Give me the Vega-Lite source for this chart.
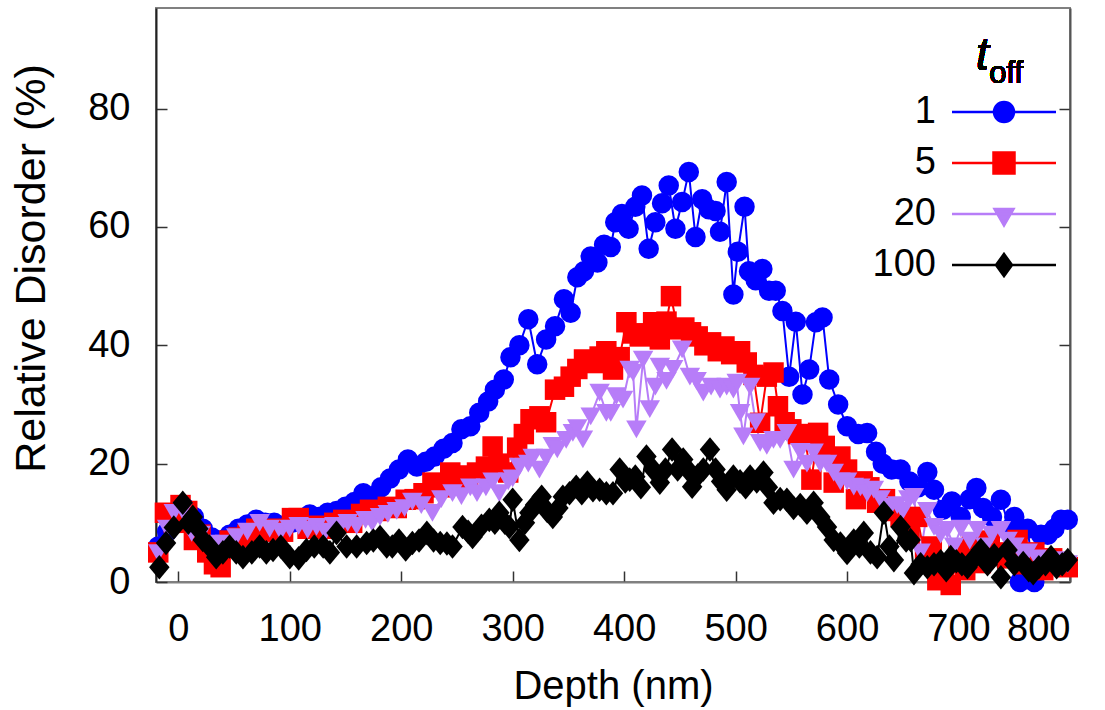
{
  "$schema": "https://vega.github.io/schema/vega-lite/v6.json",
  "width": 914,
  "height": 574,
  "autosize": {"type": "none"},
  "padding": {"left": 156, "top": 8, "right": 35, "bottom": 128},
  "config": {
    "font": "Liberation Sans",
    "view": {"stroke": "#808080", "strokeWidth": 2},
    "axis": {"grid": false, "labelColor": "#000", "titleColor": "#000", "titleFontWeight": "normal", "labelFont": "Liberation Sans", "titleFont": "Liberation Sans"},
    "legend": {"orient": "none", "legendX": 829, "legendY": 85, "padding": 0, "direction": "vertical", "symbolSize": 400, "rowPadding": 13, "labelFontSize": 38, "labelFont": "Liberation Sans", "labelColor": "#000", "labelAlign": "right", "labelBaseline": "middle", "labelOffset": -87, "symbolOpacity": 1}
  },
  "data": {"values": [
    {"s":"1","x":-18,"y":6},{"s":"1","x":-10,"y":8.5},{"s":"1","x":-2,"y":10.5},{"s":"1","x":6,"y":12.5},{"s":"1","x":14,"y":11},{"s":"1","x":22,"y":9},{"s":"1","x":30,"y":7.5},{"s":"1","x":38,"y":7},{"s":"1","x":46,"y":8},{"s":"1","x":54,"y":9},{"s":"1","x":62,"y":9.7},{"s":"1","x":70,"y":10.5},{"s":"1","x":78,"y":10},{"s":"1","x":86,"y":10},{"s":"1","x":94,"y":9.5},{"s":"1","x":102,"y":10},{"s":"1","x":110,"y":10.5},{"s":"1","x":118,"y":11.4},{"s":"1","x":126,"y":11},{"s":"1","x":134,"y":11.7},{"s":"1","x":142,"y":12},{"s":"1","x":150,"y":12.7},{"s":"1","x":158,"y":13.5},{"s":"1","x":166,"y":15},{"s":"1","x":174,"y":14.4},{"s":"1","x":182,"y":16},{"s":"1","x":190,"y":17.5},{"s":"1","x":198,"y":19},{"s":"1","x":206,"y":20.7},{"s":"1","x":214,"y":19.5},{"s":"1","x":222,"y":20.3},{"s":"1","x":230,"y":21.2},{"s":"1","x":238,"y":22.5},{"s":"1","x":246,"y":23.5},{"s":"1","x":254,"y":25.8},{"s":"1","x":262,"y":26.3},{"s":"1","x":270,"y":28.6},{"s":"1","x":278,"y":30.5},{"s":"1","x":284,"y":32.5},{"s":"1","x":292,"y":34.2},{"s":"1","x":298,"y":38},{"s":"1","x":306,"y":40},{"s":"1","x":314,"y":44.4},{"s":"1","x":322,"y":36.8},{"s":"1","x":330,"y":41},{"s":"1","x":338,"y":43.2},{"s":"1","x":346,"y":47.8},{"s":"1","x":352,"y":45.5},{"s":"1","x":358,"y":51.5},{"s":"1","x":364,"y":52.5},{"s":"1","x":370,"y":55},{"s":"1","x":376,"y":54},{"s":"1","x":382,"y":57},{"s":"1","x":388,"y":56.6},{"s":"1","x":392,"y":60.8},{"s":"1","x":398,"y":62.2},{"s":"1","x":404,"y":59.7},{"s":"1","x":410,"y":63.4},{"s":"1","x":416,"y":65.3},{"s":"1","x":422,"y":56.3},{"s":"1","x":428,"y":60.8},{"s":"1","x":434,"y":64},{"s":"1","x":440,"y":67},{"s":"1","x":446,"y":59.7},{"s":"1","x":452,"y":64.2},{"s":"1","x":458,"y":69.3},{"s":"1","x":464,"y":58.3},{"s":"1","x":470,"y":64.7},{"s":"1","x":476,"y":63},{"s":"1","x":482,"y":62.7},{"s":"1","x":486,"y":59.2},{"s":"1","x":492,"y":67.6},{"s":"1","x":498,"y":48.6},{"s":"1","x":502,"y":55.8},{"s":"1","x":508,"y":63.4},{"s":"1","x":512,"y":52.5},{"s":"1","x":518,"y":51},{"s":"1","x":524,"y":52.9},{"s":"1","x":530,"y":49.2},{"s":"1","x":536,"y":49.2},{"s":"1","x":542,"y":45.8},{"s":"1","x":548,"y":34.7},{"s":"1","x":554,"y":44},{"s":"1","x":560,"y":31.7},{"s":"1","x":566,"y":35.9},{"s":"1","x":572,"y":43.9},{"s":"1","x":578,"y":44.7},{"s":"1","x":584,"y":34.2},{"s":"1","x":592,"y":30},{"s":"1","x":600,"y":26.3},{"s":"1","x":610,"y":25},{"s":"1","x":618,"y":25.2},{"s":"1","x":626,"y":22},{"s":"1","x":632,"y":20},{"s":"1","x":640,"y":19},{"s":"1","x":648,"y":19},{"s":"1","x":656,"y":17},{"s":"1","x":664,"y":16},{"s":"1","x":672,"y":18.6},{"s":"1","x":678,"y":15.6},{"s":"1","x":686,"y":12.2},{"s":"1","x":694,"y":13.6},{"s":"1","x":702,"y":11},{"s":"1","x":710,"y":14},{"s":"1","x":716,"y":15.9},{"s":"1","x":722,"y":12.5},{"s":"1","x":730,"y":11},{"s":"1","x":738,"y":13.9},{"s":"1","x":746,"y":9},{"s":"1","x":750,"y":11},{"s":"1","x":755,"y":0},{"s":"1","x":762,"y":9},{"s":"1","x":768,"y":0},{"s":"1","x":774,"y":8},{"s":"1","x":780,"y":8},{"s":"1","x":786,"y":9},{"s":"1","x":792,"y":10.5},{"s":"1","x":798,"y":10.5},
    {"s":"5","x":-18,"y":5},{"s":"5","x":-12,"y":11.7},{"s":"5","x":-4,"y":10},{"s":"5","x":2,"y":13},{"s":"5","x":8,"y":12},{"s":"5","x":14,"y":7.1},{"s":"5","x":20,"y":8},{"s":"5","x":26,"y":5},{"s":"5","x":32,"y":3},{"s":"5","x":38,"y":2.5},{"s":"5","x":46,"y":7},{"s":"5","x":54,"y":7.5},{"s":"5","x":62,"y":8},{"s":"5","x":70,"y":9},{"s":"5","x":78,"y":8.5},{"s":"5","x":86,"y":9},{"s":"5","x":94,"y":8.5},{"s":"5","x":102,"y":10.8},{"s":"5","x":108,"y":10.8},{"s":"5","x":116,"y":9},{"s":"5","x":124,"y":9.5},{"s":"5","x":132,"y":9},{"s":"5","x":140,"y":10},{"s":"5","x":148,"y":10.5},{"s":"5","x":156,"y":10},{"s":"5","x":164,"y":11.5},{"s":"5","x":172,"y":12.2},{"s":"5","x":180,"y":12},{"s":"5","x":188,"y":12.7},{"s":"5","x":196,"y":12.5},{"s":"5","x":204,"y":13.9},{"s":"5","x":212,"y":14},{"s":"5","x":220,"y":15},{"s":"5","x":228,"y":16.8},{"s":"5","x":236,"y":16},{"s":"5","x":244,"y":18.5},{"s":"5","x":252,"y":17},{"s":"5","x":260,"y":18},{"s":"5","x":268,"y":18.5},{"s":"5","x":276,"y":19.5},{"s":"5","x":282,"y":22.9},{"s":"5","x":288,"y":20},{"s":"5","x":296,"y":18.5},{"s":"5","x":304,"y":22.7},{"s":"5","x":310,"y":25},{"s":"5","x":316,"y":27.5},{"s":"5","x":324,"y":28},{"s":"5","x":330,"y":27},{"s":"5","x":338,"y":32.5},{"s":"5","x":346,"y":33},{"s":"5","x":352,"y":34.7},{"s":"5","x":358,"y":36},{"s":"5","x":364,"y":37.6},{"s":"5","x":372,"y":37},{"s":"5","x":378,"y":38.1},{"s":"5","x":384,"y":39},{"s":"5","x":390,"y":35.9},{"s":"5","x":396,"y":38},{"s":"5","x":402,"y":43.9},{"s":"5","x":408,"y":42},{"s":"5","x":414,"y":41.5},{"s":"5","x":420,"y":42},{"s":"5","x":426,"y":43.9},{"s":"5","x":432,"y":41},{"s":"5","x":438,"y":44},{"s":"5","x":442,"y":48.3},{"s":"5","x":448,"y":42.7},{"s":"5","x":454,"y":43},{"s":"5","x":460,"y":42.2},{"s":"5","x":466,"y":41.5},{"s":"5","x":472,"y":40},{"s":"5","x":478,"y":40.5},{"s":"5","x":484,"y":39},{"s":"5","x":490,"y":39.8},{"s":"5","x":496,"y":38.5},{"s":"5","x":504,"y":39},{"s":"5","x":510,"y":37.1},{"s":"5","x":516,"y":35},{"s":"5","x":522,"y":26.9},{"s":"5","x":528,"y":34.7},{"s":"5","x":534,"y":35.4},{"s":"5","x":538,"y":29.7},{"s":"5","x":544,"y":27},{"s":"5","x":550,"y":25.8},{"s":"5","x":556,"y":25},{"s":"5","x":562,"y":24.6},{"s":"5","x":568,"y":17.3},{"s":"5","x":574,"y":25.2},{"s":"5","x":580,"y":23},{"s":"5","x":588,"y":16.8},{"s":"5","x":594,"y":21.2},{"s":"5","x":600,"y":19},{"s":"5","x":608,"y":14},{"s":"5","x":614,"y":17},{"s":"5","x":620,"y":16},{"s":"5","x":627,"y":13.4},{"s":"5","x":634,"y":14},{"s":"5","x":640,"y":12},{"s":"5","x":648,"y":11},{"s":"5","x":656,"y":8},{"s":"5","x":663,"y":11},{"s":"5","x":670,"y":4},{"s":"5","x":676,"y":6},{"s":"5","x":681,"y":0.3},{"s":"5","x":687,"y":3},{"s":"5","x":693,"y":-0.5},{"s":"5","x":700,"y":5},{"s":"5","x":706,"y":2},{"s":"5","x":712,"y":6},{"s":"5","x":720,"y":3.2},{"s":"5","x":728,"y":7},{"s":"5","x":736,"y":5},{"s":"5","x":744,"y":4},{"s":"5","x":753,"y":7.1},{"s":"5","x":760,"y":3},{"s":"5","x":768,"y":5},{"s":"5","x":776,"y":2},{"s":"5","x":784,"y":4},{"s":"5","x":792,"y":3},{"s":"5","x":798,"y":2.5},
    {"s":"20","x":-18,"y":4.9},{"s":"20","x":-10,"y":9},{"s":"20","x":-4,"y":11.7},{"s":"20","x":4,"y":12},{"s":"20","x":12,"y":8.3},{"s":"20","x":20,"y":8},{"s":"20","x":28,"y":6.5},{"s":"20","x":34,"y":6},{"s":"20","x":42,"y":6.5},{"s":"20","x":52,"y":7.6},{"s":"20","x":62,"y":8.5},{"s":"20","x":73,"y":10},{"s":"20","x":82,"y":9},{"s":"20","x":92,"y":8.5},{"s":"20","x":100,"y":9},{"s":"20","x":108,"y":9.5},{"s":"20","x":116,"y":8.8},{"s":"20","x":124,"y":9.3},{"s":"20","x":132,"y":8.5},{"s":"20","x":140,"y":9.5},{"s":"20","x":145,"y":9.3},{"s":"20","x":152,"y":10},{"s":"20","x":160,"y":9.5},{"s":"20","x":168,"y":10.5},{"s":"20","x":174,"y":10},{"s":"20","x":181,"y":11},{"s":"20","x":188,"y":11.5},{"s":"20","x":196,"y":12},{"s":"20","x":203,"y":12.5},{"s":"20","x":210,"y":13.6},{"s":"20","x":218,"y":13},{"s":"20","x":228,"y":11.7},{"s":"20","x":236,"y":14},{"s":"20","x":246,"y":15},{"s":"20","x":254,"y":14.5},{"s":"20","x":262,"y":16},{"s":"20","x":268,"y":15},{"s":"20","x":276,"y":16},{"s":"20","x":282,"y":17},{"s":"20","x":288,"y":15},{"s":"20","x":296,"y":17},{"s":"20","x":300,"y":17.5},{"s":"20","x":306,"y":19.5},{"s":"20","x":314,"y":20},{"s":"20","x":318,"y":21},{"s":"20","x":324,"y":19},{"s":"20","x":330,"y":21},{"s":"20","x":336,"y":23},{"s":"20","x":340,"y":22.4},{"s":"20","x":348,"y":24},{"s":"20","x":354,"y":25.2},{"s":"20","x":358,"y":26},{"s":"20","x":363,"y":24.1},{"s":"20","x":370,"y":28},{"s":"20","x":378,"y":32},{"s":"20","x":384,"y":28.6},{"s":"20","x":388,"y":28.6},{"s":"20","x":393,"y":31.4},{"s":"20","x":399,"y":30.8},{"s":"20","x":405,"y":35.9},{"s":"20","x":408,"y":35.4},{"s":"20","x":411,"y":25.8},{"s":"20","x":417,"y":37.6},{"s":"20","x":423,"y":29.2},{"s":"20","x":428,"y":33},{"s":"20","x":432,"y":36.4},{"s":"20","x":438,"y":34},{"s":"20","x":444,"y":36},{"s":"20","x":452,"y":39.3},{"s":"20","x":459,"y":34.7},{"s":"20","x":465,"y":34},{"s":"20","x":471,"y":32},{"s":"20","x":478,"y":33},{"s":"20","x":486,"y":32.5},{"s":"20","x":492,"y":33},{"s":"20","x":498,"y":32.5},{"s":"20","x":501,"y":33.7},{"s":"20","x":504,"y":28.6},{"s":"20","x":507,"y":24.6},{"s":"20","x":513,"y":33},{"s":"20","x":518,"y":27},{"s":"20","x":522,"y":23.5},{"s":"20","x":528,"y":23},{"s":"20","x":534,"y":24},{"s":"20","x":540,"y":24},{"s":"20","x":546,"y":25.2},{"s":"20","x":552,"y":19},{"s":"20","x":558,"y":22},{"s":"20","x":564,"y":20},{"s":"20","x":570,"y":21.9},{"s":"20","x":576,"y":20},{"s":"20","x":582,"y":20},{"s":"20","x":588,"y":18.5},{"s":"20","x":594,"y":17},{"s":"20","x":600,"y":17},{"s":"20","x":606,"y":16.1},{"s":"20","x":612,"y":16},{"s":"20","x":618,"y":15},{"s":"20","x":624,"y":15.6},{"s":"20","x":630,"y":14},{"s":"20","x":639,"y":12.7},{"s":"20","x":645,"y":13},{"s":"20","x":650,"y":12},{"s":"20","x":655,"y":14},{"s":"20","x":660,"y":14.4},{"s":"20","x":666,"y":5},{"s":"20","x":672,"y":12},{"s":"20","x":678,"y":9.3},{"s":"20","x":684,"y":8},{"s":"20","x":690,"y":8.8},{"s":"20","x":696,"y":6},{"s":"20","x":702,"y":9},{"s":"20","x":710,"y":7},{"s":"20","x":717,"y":8.8},{"s":"20","x":724,"y":6},{"s":"20","x":730,"y":8},{"s":"20","x":738,"y":8.8},{"s":"20","x":744,"y":7},{"s":"20","x":750,"y":6},{"s":"20","x":756,"y":4.9},{"s":"20","x":762,"y":5},{"s":"20","x":770,"y":4},{"s":"20","x":776,"y":3.2},{"s":"20","x":784,"y":3},{"s":"20","x":791,"y":3.7},{"s":"20","x":798,"y":3},
    {"s":"100","x":-17,"y":2.5},{"s":"100","x":-11,"y":6.6},{"s":"100","x":-4,"y":9.2},{"s":"100","x":4,"y":13.4},{"s":"100","x":9,"y":10},{"s":"100","x":13,"y":11},{"s":"100","x":18,"y":9},{"s":"100","x":22,"y":7.1},{"s":"100","x":28,"y":6},{"s":"100","x":34,"y":4.2},{"s":"100","x":40,"y":5},{"s":"100","x":46,"y":6},{"s":"100","x":52,"y":5},{"s":"100","x":58,"y":4.2},{"s":"100","x":66,"y":5},{"s":"100","x":73,"y":6},{"s":"100","x":79,"y":5},{"s":"100","x":85,"y":5.4},{"s":"100","x":92,"y":6},{"s":"100","x":100,"y":4.2},{"s":"100","x":108,"y":4},{"s":"100","x":115,"y":5.4},{"s":"100","x":122,"y":6},{"s":"100","x":130,"y":6},{"s":"100","x":136,"y":5},{"s":"100","x":142,"y":8.3},{"s":"100","x":151,"y":6},{"s":"100","x":160,"y":6},{"s":"100","x":169,"y":6.6},{"s":"100","x":175,"y":7},{"s":"100","x":181,"y":7.6},{"s":"100","x":187,"y":6},{"s":"100","x":192,"y":6},{"s":"100","x":198,"y":7},{"s":"100","x":204,"y":5.5},{"s":"100","x":210,"y":6.6},{"s":"100","x":216,"y":7},{"s":"100","x":223,"y":8.3},{"s":"100","x":229,"y":7},{"s":"100","x":235,"y":6.6},{"s":"100","x":241,"y":6.5},{"s":"100","x":246,"y":6},{"s":"100","x":255,"y":9.3},{"s":"100","x":260,"y":8.5},{"s":"100","x":264,"y":7.6},{"s":"100","x":272,"y":9.5},{"s":"100","x":279,"y":10.5},{"s":"100","x":284,"y":10},{"s":"100","x":288,"y":11.7},{"s":"100","x":293,"y":10},{"s":"100","x":297,"y":9.3},{"s":"100","x":300,"y":13.9},{"s":"100","x":306,"y":7.1},{"s":"100","x":311,"y":10},{"s":"100","x":315,"y":11.7},{"s":"100","x":320,"y":13},{"s":"100","x":326,"y":14.4},{"s":"100","x":331,"y":12},{"s":"100","x":336,"y":11},{"s":"100","x":341,"y":12.5},{"s":"100","x":345,"y":14.4},{"s":"100","x":351,"y":15},{"s":"100","x":357,"y":16.1},{"s":"100","x":362,"y":15},{"s":"100","x":367,"y":16.8},{"s":"100","x":372,"y":15.5},{"s":"100","x":378,"y":15.6},{"s":"100","x":384,"y":15},{"s":"100","x":390,"y":15},{"s":"100","x":396,"y":19},{"s":"100","x":401,"y":17},{"s":"100","x":405,"y":17.3},{"s":"100","x":410,"y":17.8},{"s":"100","x":415,"y":16},{"s":"100","x":420,"y":21.2},{"s":"100","x":426,"y":19},{"s":"100","x":432,"y":16.8},{"s":"100","x":437,"y":19},{"s":"100","x":443,"y":22.4},{"s":"100","x":448,"y":19},{"s":"100","x":453,"y":20.7},{"s":"100","x":457,"y":19},{"s":"100","x":461,"y":16.1},{"s":"100","x":466,"y":18},{"s":"100","x":471,"y":19},{"s":"100","x":477,"y":22.4},{"s":"100","x":482,"y":19},{"s":"100","x":487,"y":17},{"s":"100","x":492,"y":15.6},{"s":"100","x":498,"y":17.8},{"s":"100","x":504,"y":17},{"s":"100","x":509,"y":16},{"s":"100","x":513,"y":17.8},{"s":"100","x":519,"y":17},{"s":"100","x":525,"y":18.5},{"s":"100","x":529,"y":16},{"s":"100","x":534,"y":13.4},{"s":"100","x":540,"y":14},{"s":"100","x":546,"y":13.9},{"s":"100","x":552,"y":12.5},{"s":"100","x":558,"y":13},{"s":"100","x":564,"y":11.7},{"s":"100","x":570,"y":13.4},{"s":"100","x":576,"y":11},{"s":"100","x":582,"y":9.3},{"s":"100","x":588,"y":7.1},{"s":"100","x":594,"y":6.5},{"s":"100","x":600,"y":4.9},{"s":"100","x":606,"y":7},{"s":"100","x":611,"y":6},{"s":"100","x":615,"y":8.3},{"s":"100","x":621,"y":5},{"s":"100","x":627,"y":4.2},{"s":"100","x":633,"y":11.7},{"s":"100","x":638,"y":6},{"s":"100","x":642,"y":3.7},{"s":"100","x":648,"y":9.3},{"s":"100","x":653,"y":7},{"s":"100","x":657,"y":7.1},{"s":"100","x":660,"y":1.5},{"s":"100","x":666,"y":3},{"s":"100","x":672,"y":2.5},{"s":"100","x":678,"y":3},{"s":"100","x":684,"y":3.5},{"s":"100","x":689,"y":2},{"s":"100","x":693,"y":4.2},{"s":"100","x":698,"y":3.5},{"s":"100","x":703,"y":3},{"s":"100","x":708,"y":2.5},{"s":"100","x":714,"y":4},{"s":"100","x":720,"y":5.4},{"s":"100","x":726,"y":3},{"s":"100","x":732,"y":4.5},{"s":"100","x":738,"y":0.8},{"s":"100","x":744,"y":5.4},{"s":"100","x":750,"y":3},{"s":"100","x":758,"y":3.2},{"s":"100","x":763,"y":2},{"s":"100","x":767,"y":1.5},{"s":"100","x":772,"y":2.5},{"s":"100","x":778,"y":3},{"s":"100","x":783,"y":4.2},{"s":"100","x":788,"y":2.5},{"s":"100","x":793,"y":3},{"s":"100","x":798,"y":3.7}
  ]},
  "layer": [
    {
      "mark": {"type": "line", "strokeWidth": 2, "clip": false},
      "encoding": {
        "x": {"field": "x", "type": "quantitative", "scale": {"domain": [-20, 800], "nice": false, "zero": false},
          "axis": {"title": "Depth (nm)", "values": [0,100,200,300,400,500,600,700,800], "tickSize": -11, "tickWidth": 1.5, "tickColor": "#333", "domainColor": "#808080", "domainWidth": 2, "labelFontSize": 38, "labelPadding": 39, "titleFontSize": 40, "titlePadding": 18}},
        "y": {"field": "y", "type": "quantitative", "scale": {"domain": [0, 97], "nice": false},
          "axis": {"title": "Relative Disorder (%)", "values": [0,20,40,60,80], "tickSize": -11, "tickWidth": 1.5, "tickColor": "#333", "domainColor": "#222", "domainWidth": 2, "labelFontSize": 38, "labelPadding": 37, "titleFontSize": 43, "titleAngle": 270, "titleAlign": "center", "titleBaseline": "alphabetic", "titleX": -112, "titleY": 260}},
        "color": {"field": "s", "type": "nominal", "scale": {"domain": ["1","5","20","100"], "range": ["#0000ff","#ff0000","#b77df8","#000000"]}, "legend": null},
        "detail": {"field": "s"}
      }
    },
    {
      "mark": {"type": "point", "filled": true, "opacity": 1, "size": 420, "clip": false},
      "encoding": {
        "x": {"field": "x", "type": "quantitative", "scale": {"domain": [-20, 800], "nice": false, "zero": false},
          "axis": {"title": "Depth (nm)", "values": [0,100,200,300,400,500,600,700,800], "tickSize": -11, "tickWidth": 1.5, "tickColor": "#333", "domainColor": "#808080", "domainWidth": 2, "labelFontSize": 38, "labelPadding": 39, "titleFontSize": 40, "titlePadding": 18}},
        "y": {"field": "y", "type": "quantitative", "scale": {"domain": [0, 97], "nice": false},
          "axis": {"orient": "right", "title": null, "labels": false, "values": [0,20,40,60,80], "tickSize": -11, "tickWidth": 1.5, "tickColor": "#333", "domainColor": "#555", "domainWidth": 2}},
        "color": {"field": "s", "type": "nominal", "scale": {"domain": ["1","5","20","100"], "range": ["#0000ff","#ff0000","#b77df8","#000000"]}, "legend": null},
        "shape": {"field": "s", "type": "nominal", "scale": {"domain": ["1","5","20","100"], "range": ["circle","square","triangle-down","M0,-1.2L1,0L0,1.2L-1,0Z"]}, "legend": null}
      }
    },
    {
      "transform": [{"filter": "datum.x < -16"}],
      "mark": {"type": "point", "filled": true, "opacity": 0},
      "encoding": {
        "x": {"field": "x", "type": "quantitative", "scale": {"domain": [-20, 800], "nice": false, "zero": false},
          "axis": {"title": "Depth (nm)", "values": [0,100,200,300,400,500,600,700,800], "tickSize": -11, "tickWidth": 1.5, "tickColor": "#333", "domainColor": "#808080", "domainWidth": 2, "labelFontSize": 38, "labelPadding": 39, "titleFontSize": 40, "titlePadding": 18}},
        "y": {"field": "y", "type": "quantitative", "scale": {"domain": [0, 97], "nice": false}, "axis": null},
        "color": {"field": "s", "type": "nominal", "scale": {"domain": ["1","5","20","100"], "range": ["#0000ff","#ff0000","#b77df8","#000000"]},
          "legend": {"title": null,
            "encode": {"symbols": {"update": {
              "shape": {"signal": "datum.value === '1' ? 'M-5.2,0H5.2M-1,0A1,1,0,1,0,1,0A1,1,0,1,0,-1,0Z' : datum.value === '5' ? 'M-5.2,0H5.2M-1.05,-1.05H1.05V1.05H-1.05Z' : datum.value === '20' ? 'M-5.2,0H5.2M-0.95,-0.5H0.95L0,1.15Z' : 'M-5.2,0H5.2M0,-1.1L0.8,0L0,1.1L-0.8,0Z'"},
              "size": {"value": 400},
              "fill": {"signal": "datum.value === '1' ? '#0000ff' : datum.value === '5' ? '#ff0000' : datum.value === '20' ? '#b77df8' : '#000000'"},
              "stroke": {"signal": "datum.value === '1' ? '#0000ff' : datum.value === '5' ? '#ff0000' : datum.value === '20' ? '#b77df8' : '#000000'"},
              "strokeWidth": {"value": 2.5},
              "opacity": {"value": 1}}}}}}
      }
    },
    {
      "mark": {"type": "text", "text": "t", "fontStyle": "italic", "fontWeight": "normal", "fontSize": 46, "align": "center", "baseline": "alphabetic", "font": "Liberation Sans", "color": "#000"},
      "encoding": {
        "x": {"datum": 721.5, "type": "quantitative", "scale": {"domain": [-20, 800], "nice": false, "zero": false},
          "axis": {"title": "Depth (nm)", "values": [0,100,200,300,400,500,600,700,800], "tickSize": -11, "tickWidth": 1.5, "tickColor": "#333", "domainColor": "#808080", "domainWidth": 2, "labelFontSize": 38, "labelPadding": 39, "titleFontSize": 40, "titlePadding": 18}},
        "y": {"datum": 86.5, "type": "quantitative", "scale": {"domain": [0, 97], "nice": false}, "axis": null}
      }
    },
    {
      "mark": {"type": "text", "text": "off", "fontWeight": "normal", "fontSize": 31, "align": "left", "baseline": "alphabetic", "font": "Liberation Sans", "color": "#000"},
      "encoding": {
        "x": {"datum": 727.5, "type": "quantitative", "scale": {"domain": [-20, 800], "nice": false, "zero": false},
          "axis": {"title": "Depth (nm)", "values": [0,100,200,300,400,500,600,700,800], "tickSize": -11, "tickWidth": 1.5, "tickColor": "#333", "domainColor": "#808080", "domainWidth": 2, "labelFontSize": 38, "labelPadding": 39, "titleFontSize": 40, "titlePadding": 18}},
        "y": {"datum": 84.3, "type": "quantitative", "scale": {"domain": [0, 97], "nice": false}, "axis": null}
      }
    }
  ],
  "resolve": {"axis": {"y": "independent"}, "legend": {"color": "independent", "shape": "independent"}}
}
